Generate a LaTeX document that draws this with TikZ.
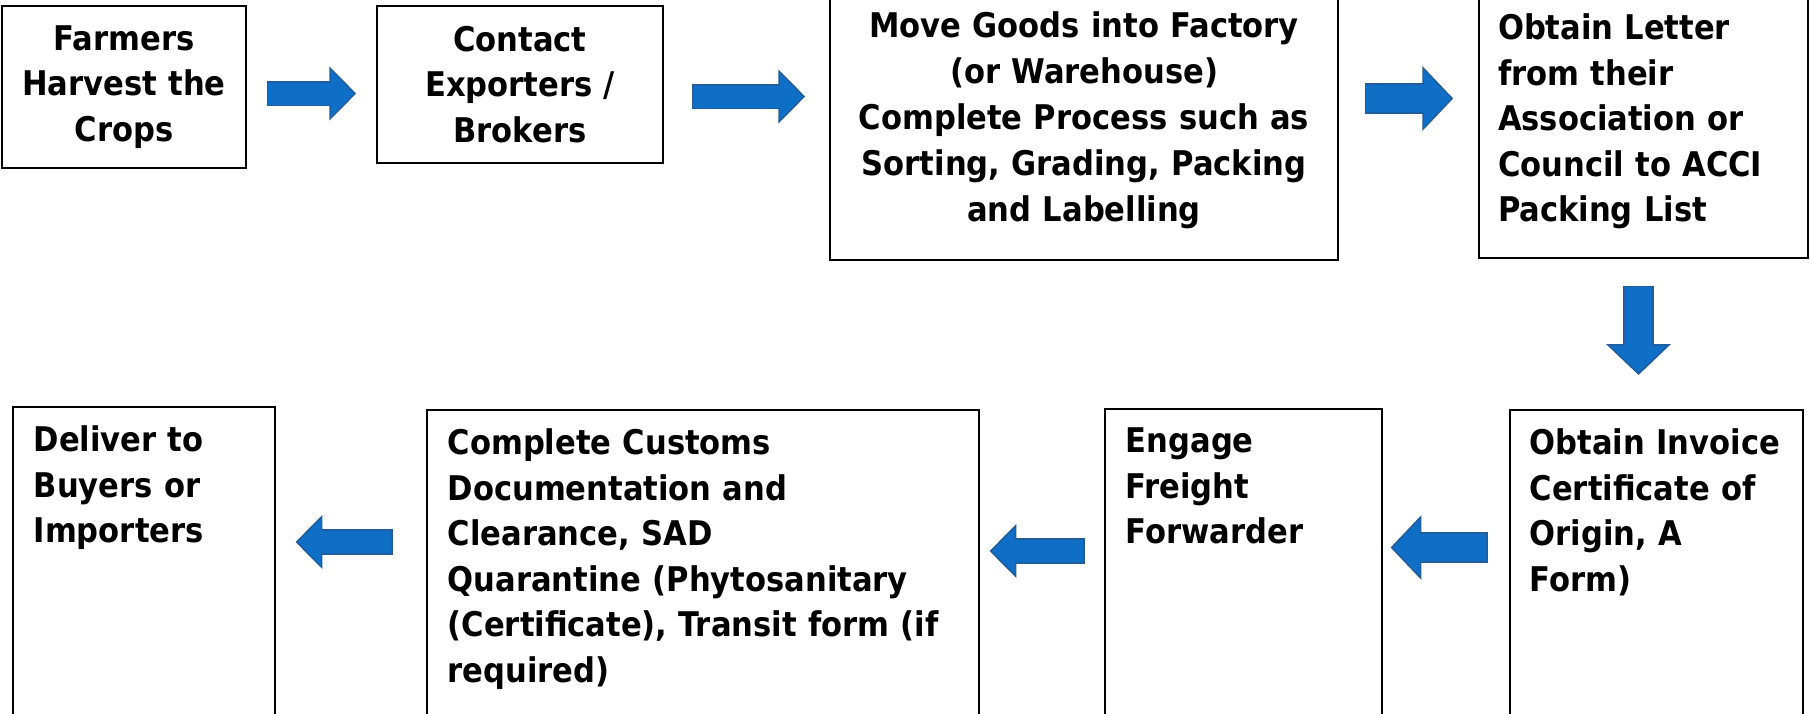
\documentclass[tikz,border=0pt]{standalone}
\usepackage{fontspec}
\newfontfamily\boxfont{DejaVu Sans Condensed}
\usetikzlibrary{arrows.meta}

\definecolor{arrowblue}{HTML}{0F6FC6}
\definecolor{arrowedge}{HTML}{215D9A}

\tikzset{
    stage/.style={draw, line width=0.75pt, inner sep=0pt, align=center,
        font=\boxfont\bfseries\fontsize{17}{22.75}\selectfont},
    lowstage/.style={stage, anchor=north west, align=left,
        inner xsep=10.5pt, inner ysep=9.5pt, text depth=200pt},
    flow/.style={arrowblue, line width=11pt, shorten <=0.8pt, shorten >=1.15pt,
        -{Triangle[length=11.5pt 0, width=22.5pt 0]},
        preaction={draw=arrowedge, line width=12.6pt, shorten <=0pt, shorten >=0pt,
            -{Triangle[length=13.45pt 0, width=26.3pt 0]}}},
    bigflow/.style={arrowblue, line width=13.5pt, shorten <=0.8pt, shorten >=1.15pt,
        -{Triangle[length=13.5pt 0, width=27.5pt 0]},
        preaction={draw=arrowedge, line width=15.1pt, shorten <=0pt, shorten >=0pt,
            -{Triangle[length=15.4pt 0, width=31.4pt 0]}}}
}

\begin{document}
\begin{tikzpicture}[x=0.5pt, y=-0.5pt]
    \useasboundingbox (0,0) rectangle (1810,713);

    % top row
    \node[stage, text width=122pt, minimum height=81pt] (farm) at (124,87)
        {Farmers\\Harvest the\\Crops};
    \node[stage, text width=143pt, minimum height=78.5pt] (contact) at (520,84.5)
        {Contact\\Exporters /\\Brokers};
    \node[stage, text width=254pt, minimum height=140pt,
        font=\boxfont\bfseries\fontsize{17}{23}\selectfont] (factory) at (1084,120)
        {Move Goods into Factory\\(or Warehouse)\\Complete Process such as\\Sorting, Grading, Packing\\and Labelling};
    \node[stage, align=left, inner xsep=9.5pt, text width=145.5pt, minimum height=136.5pt] (letter) at (1643.5,121.5)
        {Obtain Letter\\from their\\Association or\\Council to ACCI\\Packing List};

    % bottom row
    \node[lowstage, inner xsep=10pt, text width=126.5pt] (invoice) at (1509,409)
        {Obtain Invoice\\Certificate of\\Origin, A\\Form)};
    \node[lowstage, text width=117.5pt] (freight) at (1104,408)
        {Engage\\Freight\\Forwarder};
    \node[lowstage, text width=255pt] (customs) at (426,409)
        {Complete Customs\\Documentation and\\Clearance, SAD\\Quarantine (Phytosanitary\\(Certificate), Transit form (if\\required)};
    \node[lowstage, text width=110pt] (deliver) at (12,406)
        {Deliver to\\Buyers or\\Importers};

    % block arrows
    \coordinate (r1) at (0,93.5);
    \coordinate (r2) at (0,96.5);
    \coordinate (r3) at (0,98.5);
    \coordinate (c4) at (1638.5,0);
    \coordinate (r5) at (0,547.5);
    \coordinate (r6) at (0,551);
    \coordinate (r7) at (0,542);

    \draw[flow] ([xshift=10pt]farm.east |- r1) -- ([xshift=-10pt]contact.west |- r1);
    \draw[flow] ([xshift=14pt]contact.east |- r2) -- ([xshift=-12pt]factory.west |- r2);
    \draw[bigflow] ([xshift=13pt]factory.east |- r3) -- ([xshift=-12.5pt]letter.west |- r3);
    \draw[bigflow] ([yshift=-13.5pt]letter.south -| c4) -- ([yshift=17pt]invoice.north -| c4);
    \draw[bigflow] ([xshift=-10.5pt]invoice.west |- r5) -- ([xshift=4pt]freight.east |- r5);
    \draw[flow] ([xshift=-9.5pt]freight.west |- r6) -- ([xshift=5pt]customs.east |- r6);
    \draw[flow] ([xshift=-16.5pt]customs.west |- r7) -- ([xshift=10pt]deliver.east |- r7);
\end{tikzpicture}
\end{document}
